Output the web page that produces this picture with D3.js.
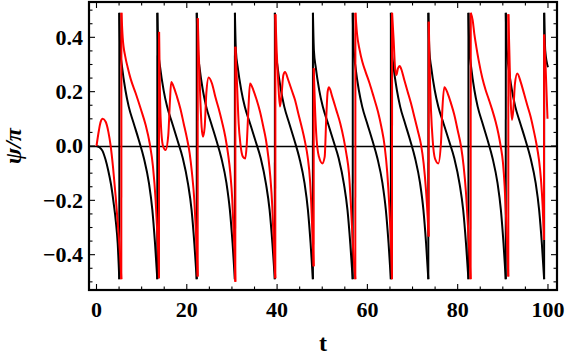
<!DOCTYPE html>
<html><head><meta charset="utf-8">
<script src="https://cdn.jsdelivr.net/npm/d3@7"></script>
<style>
html,body{margin:0;padding:0;background:#fff;}
svg{display:block;}
text{font-family:"Liberation Serif","Times New Roman",serif;font-weight:bold;fill:#000;}
</style></head>
<body>
<svg id="chart" width="568" height="359"></svg>
<script>
// ---------- data ----------
const xTicks = [0, 20, 40, 60, 80, 100];
const yTicks = [-0.4, -0.2, 0.0, 0.2, 0.4];
const yTickLabels = ["\u22120.4", "\u22120.2", "0.0", "0.2", "0.4"];
const xLabel = "t";
const yLabel = "\u03C8/\u03C0";

// black curve [t, psi/pi]
const blackSeries = [
[0,0],[0.6,-0.004],[1.3,-0.017],[2.0,-0.05],[2.6,-0.09],[3.2,-0.14],[3.8,-0.21],[4.3,-0.28],[4.7,-0.36],[5.05,-0.49],
[5.06,0.49],[5.27,0.353],[5.65,0.292],[6.40,0.206],[7.14,0.145],[8.25,0.083],[9.37,0.022],[10.50,-0.045],[11.62,-0.137],[12.37,-0.235],[12.96,-0.358],[13.47,-0.49],
[13.48,0.49],[13.70,0.35],[14.09,0.29],[14.87,0.205],[15.64,0.145],[16.79,0.083],[17.95,0.02],[19.12,-0.045],[20.28,-0.14],[21.06,-0.235],[21.68,-0.36],[22.2,-0.49],
[22.21,0.49],[22.42,0.353],[22.80,0.292],[23.55,0.206],[24.30,0.145],[25.41,0.083],[26.53,0.022],[27.67,-0.045],[28.79,-0.137],[29.54,-0.235],[30.14,-0.358],[30.65,-0.49],
[30.66,0.49],[30.88,0.35],[31.28,0.29],[32.07,0.205],[32.84,0.145],[34.01,0.083],[35.19,0.02],[36.38,-0.045],[37.55,-0.14],[38.34,-0.235],[38.97,-0.36],[39.5,-0.49],
[39.51,0.49],[39.72,0.353],[40.10,0.292],[40.85,0.206],[41.59,0.145],[42.70,0.083],[43.82,0.022],[44.95,-0.045],[46.08,-0.137],[46.83,-0.235],[47.42,-0.358],[47.93,-0.49],
[47.94,0.49],[48.16,0.35],[48.56,0.29],[49.34,0.205],[50.12,0.145],[51.28,0.083],[52.45,0.02],[53.64,-0.045],[54.81,-0.14],[55.59,-0.235],[56.22,-0.36],[56.75,-0.49],
[56.76,0.49],[56.97,0.353],[57.35,0.292],[58.10,0.206],[58.85,0.145],[59.96,0.083],[61.08,0.022],[62.22,-0.045],[63.34,-0.137],[64.09,-0.235],[64.69,-0.358],[65.2,-0.49],
[65.21,0.49],[65.42,0.353],[65.79,0.292],[66.53,0.206],[67.26,0.145],[68.35,0.083],[69.46,0.022],[70.57,-0.045],[71.67,-0.137],[72.41,-0.235],[73.0,-0.358],[73.5,-0.49],
[73.51,0.49],[73.73,0.35],[74.13,0.29],[74.92,0.205],[75.70,0.145],[76.87,0.083],[78.06,0.02],[79.25,-0.045],[80.43,-0.14],[81.22,-0.235],[81.85,-0.36],[82.38,-0.49],
[82.39,0.49],[82.60,0.353],[82.97,0.292],[83.70,0.206],[84.43,0.145],[85.52,0.083],[86.62,0.022],[87.73,-0.045],[88.83,-0.137],[89.57,-0.235],[90.15,-0.358],[90.65,-0.49],
[90.66,0.49],[90.87,0.353],[91.25,0.292],[92.01,0.206],[92.76,0.145],[93.88,0.083],[95.01,0.022],[96.15,-0.045],[97.28,-0.137],[98.04,-0.235],[98.64,-0.358],[99.15,-0.49],
[99.16,0.49],[99.4,0.35],[100,0.29]
];

// red curve [t, psi/pi]
const redSeries = [
[0,0],[0.55,0.059],[0.92,0.089],[1.37,0.10],[2.03,0.089],[2.62,0.053],[3.14,0],[3.65,-0.076],[4.25,-0.186],[4.76,-0.296],[5.2,-0.395],[5.5,-0.49],
[5.52,0.49],[5.8,0.40],[6.4,0.327],[6.9,0.29],[7.57,0.247],[8.68,0.194],[9.78,0.138],[10.89,0.077],[11.78,0.01],[12.51,-0.076],[13.1,-0.2],[13.47,-0.32],[13.77,-0.443],[13.84,-0.487],
[13.86,0.42],[14.0,0.25],[14.21,0.10],[14.73,0.0],[15.3,-0.015],[15.9,0.04],[16.25,0.16],[16.55,0.236],[17.09,0.218],[17.83,0.181],[18.57,0.138],[19.31,0.083],[20.04,0.028],[20.64,-0.027],[21.15,-0.1],[21.67,-0.2],[22.04,-0.32],[22.33,-0.443],[22.41,-0.48],
[22.43,0.47],[22.63,0.353],[23.0,0.17],[23.29,0.069],[23.59,0.034],[23.96,0.069],[24.33,0.194],[24.84,0.252],[25.58,0.23],[26.32,0.181],[27.06,0.138],[27.8,0.089],[28.53,0.034],[29.12,-0.027],[29.64,-0.1],[30.08,-0.2],[30.38,-0.32],[30.68,-0.443],[30.75,-0.5],
[30.77,0.365],[31.12,0.23],[31.49,0.083],[31.86,0.01],[32.45,-0.04],[32.96,-0.046],[33.26,0],[33.63,0.13],[34.0,0.23],[34.74,0.206],[35.47,0.17],[36.21,0.127],[36.95,0.071],[37.54,0.022],[38.06,-0.04],[38.5,-0.113],[38.94,-0.223],[39.24,-0.346],[39.46,-0.443],[39.61,-0.487],
[39.63,0.485],[39.9,0.353],[40.27,0.23],[40.64,0.145],[41.01,0.194],[41.38,0.26],[41.75,0.272],[42.49,0.242],[43.23,0.206],[43.96,0.17],[44.7,0.12],[45.44,0.071],[46.18,0.016],[46.77,-0.04],[47.29,-0.125],[47.66,-0.248],[47.95,-0.382],[48.1,-0.443],
[48.12,0.286],[48.39,0.145],[48.76,0.022],[49.28,-0.04],[50.02,-0.064],[50.54,-0.04],[50.9,0.108],[51.2,0.2],[51.5,0.216],[52.23,0.181],[53.12,0.132],[54.0,0.083],[54.74,0.028],[55.33,-0.027],[55.92,-0.1],[56.37,-0.223],[56.81,-0.37],[57.1,-0.443],[57.33,-0.49],
[57.35,0.49],[57.7,0.414],[58.29,0.353],[58.88,0.31],[59.62,0.272],[60.5,0.23],[61.39,0.181],[62.35,0.126],[63.09,0.071],[63.82,0],[64.41,-0.1],[64.86,-0.223],[65.23,-0.37],[65.45,-0.49],
[65.47,0.49],[65.82,0.39],[66.11,0.292],[66.41,0.261],[66.78,0.286],[67.15,0.294],[67.44,0.286],[68.18,0.243],[68.92,0.2],[69.66,0.157],[70.4,0.108],[71.13,0.059],[71.87,0.006],[72.46,-0.064],[72.98,-0.162],[73.35,-0.26],[73.57,-0.333],
[73.6,0.457],[73.79,0.292],[74.09,0.132],[74.46,0.022],[74.97,-0.046],[75.71,-0.064],[76.3,0.012],[76.6,0.132],[77.04,0.216],[77.78,0.194],[78.52,0.157],[79.25,0.115],[79.99,0.059],[80.73,0],[81.32,-0.074],[81.84,-0.172],[82.28,-0.294],[82.65,-0.417],[82.87,-0.49],
[82.9,0.49],[83.32,0.463],[83.68,0.414],[84.13,0.365],[84.64,0.316],[85.46,0.25],[86.19,0.206],[86.93,0.17],[87.67,0.132],[88.41,0.089],[89.0,0.047],[89.52,0],[90.03,-0.061],[90.4,-0.147],[90.7,-0.257],[91.0,-0.38],[91.21,-0.48],
[91.23,0.485],[91.44,0.353],[91.73,0.17],[92.03,0.096],[92.32,0.132],[92.69,0.23],[93.2,0.267],[93.95,0.236],[94.68,0.194],[95.42,0.15],[96.16,0.108],[96.9,0.053],[97.42,0.01],[98.0,-0.05],[98.45,-0.123],[98.82,-0.221],[99.11,-0.346],
[99.15,0.41],[99.48,0.29],[99.9,0.1]
];

// ---------- drawing ----------
const W = 568, H = 359;
const frame = {left: 89, right: 557, top: 2, bottom: 290};
const svg = d3.select("#chart");

const x = d3.scaleLinear().domain([-1.66, 102.0]).range([frame.left, frame.right]);
const y = d3.scaleLinear().domain([-0.53, 0.53]).range([frame.bottom, frame.top]);

const xMinor = d3.range(0, 101, 5).filter(v => !xTicks.includes(v));
const yMinor = d3.range(-0.5, 0.5001, 0.05).map(v => Math.round(v * 100) / 100).filter(v => !yTicks.some(t => Math.abs(t - v) < 1e-9));

svg.append("defs").append("clipPath").attr("id", "clip")
  .append("rect").attr("x", frame.left).attr("y", frame.top)
  .attr("width", frame.right - frame.left).attr("height", frame.bottom - frame.top);

// zero line
svg.append("line")
  .attr("x1", frame.left).attr("x2", frame.right)
  .attr("y1", y(0) + 0.5).attr("y2", y(0) + 0.5)
  .attr("stroke", "#000").attr("stroke-width", 1.4);

// split a series into continuous runs at the wrap jumps
function runs(series) {
  const out = [[series[0]]];
  for (let i = 1; i < series.length; i++) {
    if (Math.abs(series[i][1] - series[i - 1][1]) > 0.5) out.push([]);
    out[out.length - 1].push(series[i]);
  }
  return out;
}
const smooth = d3.line().x(d => x(d[0])).y(d => y(d[1])).curve(d3.curveMonotoneX);
const straight = d3.line().x(d => x(d[0])).y(d => y(d[1]));

function drawSeries(series, color) {
  const g = svg.append("g").attr("clip-path", "url(#clip)");
  const rs = runs(series);
  rs.forEach((r, i) => {
    g.append("path").attr("d", smooth(r)).attr("fill", "none")
      .attr("stroke", color).attr("stroke-width", 2).attr("stroke-linejoin", "round");
    if (i > 0) {
      const prev = rs[i - 1];
      g.append("path").attr("d", straight([prev[prev.length - 1], r[0]])).attr("fill", "none")
        .attr("stroke", color).attr("stroke-width", 2);
    }
  });
}
drawSeries(blackSeries, "#000");
drawSeries(redSeries, "#ff0000");

// frame
svg.append("rect")
  .attr("x", frame.left).attr("y", frame.top)
  .attr("width", frame.right - frame.left).attr("height", frame.bottom - frame.top)
  .attr("fill", "none").attr("stroke", "#000").attr("stroke-width", 2.2);

// ticks (inward, on all four sides)
const tickG = svg.append("g").attr("stroke", "#000").attr("stroke-width", 1.1);
function xTick(v, len) {
  tickG.append("line").attr("x1", x(v)).attr("x2", x(v)).attr("y1", frame.bottom).attr("y2", frame.bottom - len);
  tickG.append("line").attr("x1", x(v)).attr("x2", x(v)).attr("y1", frame.top).attr("y2", frame.top + len);
}
function yTick(v, len) {
  tickG.append("line").attr("y1", y(v)).attr("y2", y(v)).attr("x1", frame.left).attr("x2", frame.left + len);
  tickG.append("line").attr("y1", y(v)).attr("y2", y(v)).attr("x1", frame.right).attr("x2", frame.right - len);
}
xTicks.forEach(v => xTick(v, 6));
xMinor.forEach(v => xTick(v, 3.5));
yTicks.forEach(v => yTick(v, 6));
yMinor.forEach(v => yTick(v, 3.5));

// tick labels
svg.append("g").selectAll("text").data(xTicks).join("text")
  .attr("x", d => x(d)).attr("y", 317)
  .attr("text-anchor", "middle").attr("font-size", 22)
  .text(d => d);
svg.append("g").selectAll("text").data(yTicks).join("text")
  .attr("x", 83).attr("y", d => y(d)).attr("dy", "0.34em")
  .attr("text-anchor", "end").attr("font-size", 22)
  .text((d, i) => yTickLabels[i]);

// axis titles
svg.append("text").attr("x", (frame.left + frame.right) / 2).attr("y", 351)
  .attr("text-anchor", "middle").attr("font-size", 24).text(xLabel);
svg.append("text").attr("transform", `translate(21,${y(0)}) rotate(-90)`)
  .attr("text-anchor", "middle").attr("font-size", 24).attr("font-style", "italic")
  .text(yLabel);
</script>
</body></html>
